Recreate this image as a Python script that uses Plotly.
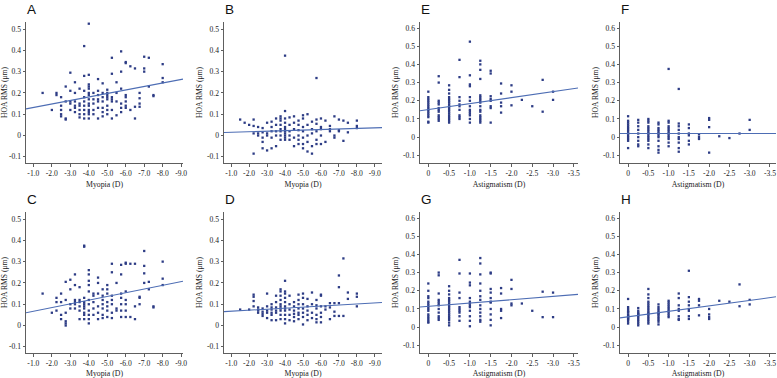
import plotly.graph_objects as go

W, H = 777, 378

# ---------------- data ----------------
# Panel A: Myopia vs HOA RMS
a_levels = [-1.5, -2.0, -2.25, -2.5, -2.75, -3.0, -3.25, -3.5, -3.75, -4.0, -4.25, -4.5, -4.75,
            -5.0, -5.25, -5.5, -5.75, -6.0, -6.25, -6.5, -6.75, -7.0, -7.25, -7.5, -8.0]
a_values = [[0.20], [0.12], [0.20, 0.19], [0.18, 0.14, 0.12, 0.10, 0.09], [0.23, 0.16, 0.08, 0.075],
            [0.295, 0.21, 0.16, 0.15, 0.12], [0.25, 0.20, 0.16, 0.14, 0.13, 0.11],
            [0.22, 0.15, 0.14, 0.12, 0.10, 0.085],
            [0.42, 0.28, 0.21, 0.18, 0.16, 0.14, 0.12, 0.10, 0.08],
            [0.525, 0.285, 0.24, 0.23, 0.22, 0.20, 0.19, 0.17, 0.15, 0.14, 0.12, 0.11, 0.10, 0.08],
            [0.20, 0.17, 0.15, 0.12, 0.10], [0.265, 0.21, 0.19, 0.17, 0.16, 0.13, 0.08],
            [0.245, 0.20, 0.18, 0.16, 0.13, 0.11, 0.09],
            [0.215, 0.20, 0.19, 0.18, 0.17, 0.14, 0.12, 0.10],
            [0.365, 0.29, 0.18, 0.17, 0.16, 0.12, 0.08], [0.25, 0.20, 0.16, 0.095],
            [0.395, 0.30, 0.22, 0.15, 0.13, 0.11], [0.345, 0.34, 0.19, 0.18, 0.16, 0.14, 0.13],
            [0.325, 0.12], [0.315, 0.135, 0.08], [0.20, 0.175, 0.15, 0.135], [0.37, 0.315, 0.30],
            [0.365, 0.23], [0.19, 0.185], [0.335, 0.27, 0.25]]

# Panel B
b_levels = [-1.5, -1.75, -2.0, -2.25, -2.5, -2.75, -3.0, -3.25, -3.5, -3.75, -4.0, -4.25, -4.5, -4.75,
            -5.0, -5.25, -5.5, -5.75, -6.0, -6.25, -6.5, -6.75, -7.0, -7.25, -7.5, -8.0]
b_values = [[0.075], [0.06], [0.05], [0.075, 0.045, 0.01, -0.085], [0.04, 0.01, 0.0],
            [0.035, 0.015, -0.01, -0.03, -0.06], [0.06, 0.01, 0.0, -0.07],
            [0.065, 0.04, 0.02, -0.01, -0.06], [0.08, 0.05, 0.02, 0.0, -0.05],
            [0.09, 0.08, 0.07, 0.05, 0.03, 0.02, 0.0, -0.02],
            [0.375, 0.115, 0.08, 0.06, 0.04, 0.03, 0.02, 0.01, 0.0, -0.01, -0.02],
            [0.085, 0.05, 0.02, 0.0, -0.02], [0.09, 0.06, 0.03, -0.01, -0.05],
            [0.07, 0.05, 0.025, 0.0, -0.02, -0.04], [0.095, 0.08, 0.04, 0.02, -0.01, -0.04, -0.06],
            [0.10, 0.05, 0.0, -0.03, -0.075], [0.065, 0.03, 0.01, -0.05, -0.085],
            [0.27, 0.075, 0.055, 0.02, -0.02, -0.04], [0.08, 0.04, 0.03, 0.0, -0.04],
            [0.07, -0.03], [0.045, 0.03, 0.02], [0.09, 0.0, -0.01], [0.075, 0.025, 0.02],
            [0.07, -0.025], [0.06, 0.015], [0.07, 0.045, 0.035]]

# Panel C
c_levels = [-1.5, -2.0, -2.25, -2.5, -2.75, -3.0, -3.25, -3.5, -3.75, -4.0, -4.25, -4.5, -4.75,
            -5.0, -5.25, -5.5, -5.75, -6.0, -6.25, -6.5, -6.75, -7.0, -7.25, -7.5, -8.0]
c_values = [[0.15], [0.06], [0.13, 0.11, 0.07], [0.15, 0.11, 0.05, 0.03],
            [0.205, 0.12, 0.06, 0.02, 0.01, 0.0], [0.215, 0.17, 0.10, 0.08],
            [0.24, 0.19, 0.12, 0.11, 0.10, 0.08], [0.18, 0.12, 0.11, 0.09, 0.07, 0.03],
            [0.375, 0.37, 0.13, 0.11, 0.10, 0.09, 0.08, 0.06, 0.05, 0.03],
            [0.26, 0.24, 0.21, 0.19, 0.16, 0.12, 0.10, 0.07, 0.05, 0.03, 0.01],
            [0.15, 0.14, 0.11, 0.08, 0.05], [0.225, 0.20, 0.15, 0.09, 0.06, 0.03],
            [0.17, 0.14, 0.12, 0.10, 0.08, 0.05, 0.035], [0.19, 0.17, 0.15, 0.11, 0.09, 0.07, 0.04],
            [0.29, 0.25, 0.14, 0.12, 0.10, 0.06, 0.035], [0.20, 0.08, 0.07],
            [0.285, 0.24, 0.15, 0.13, 0.10, 0.07, 0.04], [0.295, 0.29, 0.16, 0.12, 0.10, 0.07, 0.04],
            [0.29, 0.04], [0.29, 0.09, 0.03], [0.135, 0.13, 0.10], [0.35, 0.28, 0.245, 0.20],
            [0.205, 0.17], [0.09, 0.085], [0.30, 0.22, 0.19]]

# Panel D
d_levels = [-1.5, -2.0, -2.25, -2.5, -2.75, -3.0, -3.25, -3.5, -3.75, -4.0, -4.25, -4.5, -4.75,
            -5.0, -5.25, -5.5, -5.75, -6.0, -6.25, -6.5, -6.75, -7.0, -7.25, -7.5, -8.0]
d_values = [[0.075], [0.075], [0.145, 0.135, 0.115, 0.09], [0.085, 0.075, 0.07, 0.06],
            [0.08, 0.065, 0.055, 0.045], [0.15, 0.09, 0.07, 0.06, 0.035],
            [0.10, 0.085, 0.075, 0.06, 0.05, 0.025], [0.14, 0.11, 0.085, 0.07, 0.06, 0.025],
            [0.17, 0.16, 0.14, 0.12, 0.10, 0.09, 0.08, 0.07, 0.05, 0.03],
            [0.21, 0.16, 0.15, 0.13, 0.11, 0.09, 0.08, 0.07, 0.05, 0.03, 0.01],
            [0.14, 0.10, 0.075, 0.05, 0.025], [0.11, 0.09, 0.07, 0.055, 0.04, 0.02],
            [0.145, 0.12, 0.10, 0.08, 0.06, 0.05, 0.03], [0.15, 0.13, 0.10, 0.08, 0.06, 0.04, 0.005],
            [0.125, 0.09, 0.07, 0.05, 0.025], [0.155, 0.10, 0.06, 0.035],
            [0.12, 0.095, 0.08, 0.05, 0.03, 0.015], [0.145, 0.14, 0.09, 0.06, 0.04, 0.015],
            [0.09, 0.075], [0.105, 0.085, 0.03], [0.105, 0.065, 0.045], [0.235, 0.18, 0.105, 0.045],
            [0.315, 0.045], [0.155, 0.125], [0.15, 0.135, 0.09]]

# Panel E: Astigmatism vs HOA RMS
e_levels = [0, -0.25, -0.5, -0.75, -1.0, -1.25, -1.5, -1.75, -2.0, -2.25, -2.5, -2.75, -3.0]
e_values = [[0.25, 0.22, 0.21, 0.20, 0.19, 0.18, 0.17, 0.16, 0.15, 0.14, 0.13, 0.12, 0.11, 0.085, 0.08],
            [0.335, 0.30, 0.20, 0.19, 0.18, 0.16, 0.15, 0.14, 0.12, 0.11, 0.10, 0.09],
            [0.285, 0.26, 0.24, 0.22, 0.21, 0.20, 0.19, 0.18, 0.17, 0.16, 0.15, 0.14, 0.13, 0.12,
             0.11, 0.10, 0.09, 0.08],
            [0.425, 0.33, 0.22, 0.20, 0.18, 0.17, 0.15, 0.12, 0.11, 0.10],
            [0.525, 0.34, 0.29, 0.28, 0.22, 0.20, 0.17, 0.15, 0.14, 0.13, 0.12, 0.10, 0.08],
            [0.42, 0.40, 0.37, 0.32, 0.23, 0.22, 0.21, 0.20, 0.19, 0.17, 0.15, 0.14, 0.12, 0.11,
             0.10, 0.09, 0.08],
            [0.365, 0.35, 0.225, 0.21, 0.20, 0.17, 0.16, 0.08],
            [0.295, 0.24, 0.19, 0.17, 0.135], [0.285, 0.25, 0.175], [0.205], [0.17],
            [0.315, 0.14], [0.25, 0.205]]

# Panel F
f_levels = [0, -0.25, -0.5, -0.75, -1.0, -1.25, -1.5, -1.75, -2.0, -2.25, -2.5, -2.75, -3.0]
f_values = [[0.115, 0.09, 0.08, 0.07, 0.06, 0.05, 0.04, 0.03, 0.02, 0.01, 0.0, -0.01, -0.02, -0.06],
            [0.095, 0.08, 0.06, 0.04, 0.02, 0.0, -0.02, -0.04, -0.05],
            [0.10, 0.09, 0.08, 0.06, 0.05, 0.04, 0.03, 0.02, 0.01, 0.0, -0.01, -0.02, -0.04, -0.06],
            [0.08, 0.07, 0.05, 0.04, 0.03, 0.02, 0.01, 0.0, -0.02, -0.05, -0.07, -0.085],
            [0.375, 0.09, 0.08, 0.06, 0.05, 0.04, 0.03, 0.02, 0.01, 0.0, -0.01, -0.03, -0.05],
            [0.265, 0.075, 0.06, 0.04, 0.02, 0.0, -0.01, -0.03, -0.06, -0.08],
            [0.07, 0.05, 0.02, 0.01, -0.02, -0.04], [0.015, 0.0, -0.01],
            [0.105, 0.095, 0.055, -0.085], [0.005], [-0.005], [0.02], [0.095, 0.04]]

# Panel G
g_levels = [0, -0.25, -0.5, -0.75, -1.0, -1.25, -1.5, -1.75, -2.0, -2.25, -2.5, -2.75, -3.0]
g_values = [[0.24, 0.20, 0.17, 0.16, 0.14, 0.13, 0.12, 0.11, 0.10, 0.09, 0.07, 0.06, 0.05, 0.04,
             0.03, 0.025],
            [0.30, 0.285, 0.185, 0.15, 0.14, 0.13, 0.12, 0.10, 0.08, 0.06, 0.05, 0.04],
            [0.225, 0.20, 0.18, 0.16, 0.15, 0.14, 0.13, 0.12, 0.11, 0.10, 0.09, 0.08, 0.07, 0.06,
             0.05, 0.04, 0.025, 0.01],
            [0.37, 0.295, 0.19, 0.16, 0.11, 0.10, 0.09, 0.08, 0.06, 0.035],
            [0.295, 0.245, 0.23, 0.16, 0.14, 0.13, 0.12, 0.11, 0.09, 0.06, 0.035, 0.005],
            [0.38, 0.35, 0.29, 0.24, 0.20, 0.17, 0.15, 0.12, 0.10, 0.08, 0.06, 0.04, 0.03],
            [0.30, 0.295, 0.21, 0.19, 0.16, 0.14, 0.135, 0.10, 0.07, 0.04, 0.01],
            [0.215, 0.185, 0.10, 0.09, 0.05], [0.26, 0.21, 0.13, 0.12], [0.13], [0.09],
            [0.195, 0.055], [0.19, 0.055]]

# Panel H
h_levels = [0, -0.25, -0.5, -0.75, -1.0, -1.25, -1.5, -1.75, -2.0, -2.25, -2.5, -2.75, -3.0]
h_values = [[0.155, 0.11, 0.10, 0.09, 0.085, 0.08, 0.07, 0.065, 0.06, 0.055, 0.05, 0.045, 0.04,
             0.03, 0.02],
            [0.105, 0.09, 0.08, 0.075, 0.07, 0.065, 0.06, 0.05, 0.04, 0.03, 0.02, 0.01],
            [0.21, 0.18, 0.16, 0.14, 0.13, 0.12, 0.11, 0.10, 0.09, 0.08, 0.075, 0.07, 0.06, 0.05,
             0.04, 0.03, 0.02],
            [0.125, 0.11, 0.10, 0.09, 0.08, 0.075, 0.07, 0.06, 0.05, 0.04, 0.03, 0.015],
            [0.145, 0.135, 0.125, 0.115, 0.105, 0.095, 0.085, 0.075, 0.065, 0.055],
            [0.185, 0.16, 0.12, 0.10, 0.09, 0.06, 0.045, 0.04],
            [0.31, 0.165, 0.14, 0.12, 0.10, 0.09, 0.06, 0.045],
            [0.155, 0.145, 0.12, 0.065], [0.10, 0.07, 0.055, 0.045], [0.145], [0.14],
            [0.235, 0.115], [0.15, 0.125]]

# regression lines (intercept, slope)
fit_intercepts = {"A": 0.1151, "B": 0.0124, "C": 0.0496, "D": 0.0621,
                  "E": 0.1516, "F": 0.020, "G": 0.1146, "H": 0.0570}
fit_slopes = {"A": -0.01647, "B": -0.00261, "C": -0.01741, "D": -0.00489,
              "E": -0.0329, "F": 0.0, "G": -0.01816, "H": -0.0301}

# tick labels
myopia_ticks = [-1.0, -2.0, -3.0, -4.0, -5.0, -6.0, -7.0, -8.0, -9.0]
myopia_ticktext = ["-1.0", "-2.0", "-3.0", "-4.0", "-5.0", "-6.0", "-7.0", "-8.0", "-9.0"]
astig_ticks = [0, -0.5, -1.0, -1.5, -2.0, -2.5, -3.0, -3.5]
astig_ticktext = ["0", "-0.5", "-1.0", "-1.5", "-2.0", "-2.5", "-3.0", "-3.5"]
hoa_ticks_05 = [-0.1, 0, 0.1, 0.2, 0.3, 0.4, 0.5]
hoa_ticktext_05 = ["-0.1", "0", "0.1", "0.2", "0.3", "0.4", "0.5"]
hoa_ticks_06 = [-0.1, 0, 0.1, 0.2, 0.3, 0.4, 0.5, 0.6]
hoa_ticktext_06 = ["-0.1", "0", "0.1", "0.2", "0.3", "0.4", "0.5", "0.6"]

# ---------------- layout / styling ----------------
POINT_COLOR = "#2d3c85"
LINE_COLOR = "#4d6db4"
AXIS_COLOR = "#5e5e5e"
TEXT_COLOR = "#222222"
SERIF = "Liberation Serif"

panels = [
    ("A", a_levels, a_values, "myopia", (26, 183), 0, [-0.6, -9.1]),
    ("B", b_levels, b_values, "myopia", (224, 382), 0, [-0.6, -9.4]),
    ("E", e_levels, e_values, "astig", (420, 578), 0, [0.2, -3.6]),
    ("F", f_levels, f_values, "astig", (620, 776), 0, [0.2, -3.65]),
    ("C", c_levels, c_values, "myopia", (26, 183), 1, [-0.6, -9.1]),
    ("D", d_levels, d_values, "myopia", (224, 382), 1, [-0.6, -9.4]),
    ("G", g_levels, g_values, "astig", (420, 578), 1, [0.2, -3.6]),
    ("H", h_levels, h_values, "astig", (620, 776), 1, [0.2, -3.65]),
]
row_pixels = [(22, 163), (212, 353)]

fig = go.Figure()
layout = dict(
    template="none",
    width=W, height=H, margin=dict(l=0, r=0, t=0, b=0, autoexpand=False),
    paper_bgcolor="white", plot_bgcolor="white", showlegend=False,
    font=dict(family=SERIF, color=TEXT_COLOR),
    annotations=[],
)

for i, (letter, levels, values, kind, (px0, px1), row, xr) in enumerate(panels):
    n = i + 1
    xs, ys = [], []
    for lv, vals in zip(levels, values):
        for v in vals:
            xs.append(lv)
            ys.append(v)
    xa = "x" if n == 1 else f"x{n}"
    ya = "y" if n == 1 else f"y{n}"
    fig.add_trace(go.Scatter(x=xs, y=ys, mode="markers", xaxis=xa, yaxis=ya,
                             marker=dict(symbol="square", size=2.3, color=POINT_COLOR,
                                         line=dict(width=0)),
                             hoverinfo="x+y"))
    a0, b0 = fit_intercepts[letter], fit_slopes[letter]
    fig.add_trace(go.Scatter(x=xr, y=[a0 + b0 * xr[0], a0 + b0 * xr[1]], mode="lines",
                             xaxis=xa, yaxis=ya, line=dict(color=LINE_COLOR, width=1.1),
                             hoverinfo="skip"))

    top, bot = row_pixels[row]
    if kind == "myopia":
        yr = [-0.129, 0.533]
        yticks, ytext = hoa_ticks_05, hoa_ticktext_05
        xticks, xtext, xtitle = myopia_ticks, myopia_ticktext, "Myopia (D)"
    else:
        yr = [-0.142, 0.633]
        yticks, ytext = hoa_ticks_06, hoa_ticktext_06
        xticks, xtext, xtitle = astig_ticks, astig_ticktext, "Astigmatism (D)"

    axis_common = dict(showgrid=False, zeroline=False, showline=True, linecolor=AXIS_COLOR,
                       linewidth=1, ticks="outside", ticklen=2.5, tickcolor=AXIS_COLOR,
                       tickwidth=1, tickfont=dict(family=SERIF, size=7.6, color=TEXT_COLOR),
                       fixedrange=True, automargin=False)
    layout["xaxis" if n == 1 else f"xaxis{n}"] = dict(
        axis_common, domain=[px0 / W, px1 / W], anchor=ya, range=xr,
        tickmode="array", tickvals=xticks, ticktext=xtext,
        title=dict(text=xtitle, font=dict(family=SERIF, size=7.8, color=TEXT_COLOR), standoff=4),
    )
    layout["yaxis" if n == 1 else f"yaxis{n}"] = dict(
        axis_common, domain=[1 - bot / H, 1 - top / H], anchor=xa, range=yr,
        tickmode="array", tickvals=yticks, ticktext=ytext,
        title=dict(text="HOA RMS (μm)", font=dict(family=SERIF, size=7.6, color=TEXT_COLOR), standoff=3),
    )
    layout["annotations"].append(dict(
        text=letter, x=(px0 - 1) / W, y=1 - (top - 12.5) / H, xref="paper", yref="paper",
        xanchor="left", yanchor="middle", showarrow=False,
        font=dict(family="Liberation Sans", size=13.5, color="#111111")))

fig.update_layout(**layout)
fig.write_html("out.html", config={"displayModeBar": False},
               post_script="document.body.style.margin='0';document.body.style.padding='0';"
                           "document.body.style.overflow='hidden';")
